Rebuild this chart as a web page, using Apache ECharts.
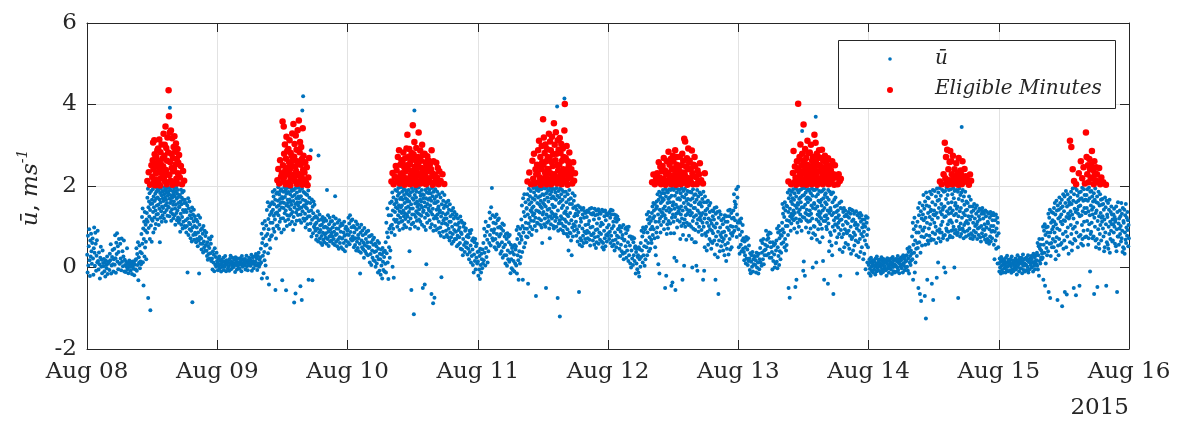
<!DOCTYPE html>
<html>
<head>
<meta charset="utf-8">
<script src="https://cdn.jsdelivr.net/npm/echarts@6/dist/echarts.min.js"></script>
<style>
html,body{margin:0;padding:0;background:#fff}
#chart{width:1180px;height:425px}
</style>
</head>
<body>
<div id="chart"></div>
<script>
// Day tick labels along the time axis (Aug 08 .. Aug 16, 2015)
const dayLabels = ['Aug 08', 'Aug 09', 'Aug 10', 'Aug 11', 'Aug 12', 'Aug 13', 'Aug 14', 'Aug 15', 'Aug 16'];
const yearLabel = '2015';
const yTickValues = [-2, 0, 2, 4, 6];

// Mean wind speed ū (m/s): for each day, one list of samples per hour (hours 0..23)
const blue08 = [
  [.31,-.12,.78,.05,.52,.94,.18,-.21,.66,.27,.83,.4,.09,.6],
  [.71,.22,-.18,.47,.98,.36,.04,.85,.58,-.08,.29,.67,.13,.9],
  [.16,-.05,.37,.08,-.27,.24,.51,.02,.19,-.14,.42,.11],
  [.03,.21,-.09,.12,-.22,.17,.06,-.02,.27,-.16,.09,.14],
  [.12,-.06,.34,.18,.57,-.15,.05,.26,.43,.08,-.1,.2],
  [.46,.07,.79,.23,-.13,.61,.33,.84,.15,.52,-.04,.38,.7,.1],
  [.09,.58,.22,-.07,.71,.14,.4,.03,.27,.66,-.1,.19],
  [.06,-.11,.14,.02,.47,-.04,.1,-.14,.08,.17,.01,.12],
  [-.08,.1,.02,-.16,.15,.05,-.03,.12,-.19,.07,.18,-.05],
  [.2,.47,-.08,.33,.06,.62,-.31,.25,.12,.54,-.02,.38,.15,.08],
  [.82,.35,1.24,.58,1.45,.13,.96,-.44,.7,1.12,.27,1.36,.49,.91,1.05,.63,.2,1.18],
  [1.34,.86,1.71,1.12,1.93,-.75,1.48,.97,1.62,1.25,1.82,.7,1.41,-1.05,1.56,1.03,1.88,1.19,.63,1.66],
  [1.57,1.15,1.92,1.36,.86,1.74,1.48,1.98,1.23,1.63,.95,1.81,1.4,1.07,1.69,1.86,1.3,1.52,1.94,1.18],
  [1.72,1.31,1.89,1.54,1.04,1.96,1.44,1.67,.62,1.83,1.22,1.6,1.93,1.38,1.77,1.12,1.5,1.86,1.28,1.7],
  [1.46,1.88,1.63,1.2,1.79,1.97,1.35,1.71,1.53,1.91,1.13,1.66,1.84,1.41,1.58,1.95,1.27,1.76,1.5,1.86],
  [1.82,1.47,1.95,1.26,1.69,3.92,1.58,1.9,1.36,1.77,1.15,1.63,1.98,1.43,1.72,1.31,1.87,1.54,1.21,1.8],
  [1.62,1.93,1.28,1.75,1.45,1.05,1.86,1.54,1.97,1.34,1.69,1.16,1.81,1.4,1.9,1.23,1.58,1.73,1.1,1.48],
  [1.49,1.17,1.78,.88,1.62,1.32,1.91,1.05,1.55,1.71,1.24,1.84,.96,1.41,1.66,1.12,1.88,1.36,1.58,1.02],
  [1.66,.98,1.41,1.16,1.58,.86,1.36,1.02,1.52,-.12,1.2,1.7,.8,1.45,1.1,1.62,.94,1.28],
  [1.06,.72,1.38,.9,1.21,.64,1.47,-.85,.98,1.3,.8,1.13,1.42,.68,1.02,1.26,.85,1.17],
  [.81,.62,1.17,.98,.7,1.12,.52,.86,1.28,.66,-.15,1.05,.75,1.22,.58,.92],
  [.71,.44,.96,.58,.83,.37,1.02,.64,.5,.9,.41,.77,.55,.86],
  [.41,.28,.62,.19,.53,.33,.72,.48,.22,.69,.35,.58,.16,.76],
  [.22,-.05,.4,.12,.31,-.09,.47,.07,.26,.02,.36,.16]
];
const blue09 = [
  [.11,-.07,.22,.04,.27,-.02,.16,.08,-.1,.19,.01,.13],
  [.05,.24,-.06,.15,.02,.28,.09,-.09,.18,.07,.12,-.03],
  [.17,.03,-.08,.21,.1,.29,-.04,.14,.06,.24,0,.11],
  [.02,.19,.09,-.11,.25,.06,.14,-.05,.22,.04,.12,-.02],
  [.13,-.03,.23,.07,.17,-.09,.28,.1,.02,.2,.05,.15],
  [.08,.21,-.05,.15,.29,.03,.11,-.07,.18,.06,.24,.12],
  [.2,.04,.14,.31,-.08,.09,.25,.16,-.02,.12,.27,.06],
  [.14,.33,.05,.22,-.06,.28,.1,.36,.02,.19,.08,.25],
  [.46,.12,.83,-.27,.6,1.08,.29,.71,-.14,.95,.38,.18,1.14,.54,.05,.77],
  [1.03,.56,1.41,-.26,.82,1.6,.35,1.19,.94,-.42,1.5,.68,1.29,.47,1.1,1.55,.76,1.34],
  [1.37,.79,1.6,1.1,1.86,1.42,.95,1.74,1.27,1.55,.88,1.9,1.18,1.66,-.55,1.33,.71,1.81,1.02,1.49],
  [1.35,1.84,1.03,1.64,1.97,1.28,1.52,.95,1.79,1.41,1.12,1.68,1.88,1.58,1.2,1.92,.86,1.47,1.73,-.31],
  [1.6,1.7,1.21,1.86,1.46,.93,1.58,1.97,1.33,1.73,1.14,1.89,1.4,-.56,1.81,1.52,1.02,1.95,1.28,1.66],
  [1.58,1.18,1.85,1.49,1.97,1.27,1.67,1.06,1.8,1.43,1.62,1.95,1.31,1.54,1.88,1.12,1.74,1.36,1.92,.92],
  [1.63,1.24,1.9,-.86,1.47,1.78,1.06,1.56,-.64,1.95,1.35,1.7,1.15,1.84,1.42,1.6,1.97,1.29,1.52,1.74],
  [1.96,1.7,1.44,1.16,1.88,1.6,-.46,1.3,1.75,1.1,1.47,-.8,1.93,3.85,1.38,1.66,4.2,1.2,1.85,1.52],
  [1.52,1.15,1.83,1.32,1.64,.98,1.48,1.8,1.2,1.57,1.45,1.78,1.06,1.6,1.25,1.89,-.3,1.38,.92,1.71],
  [1.26,.92,1.58,1.08,2.88,1.4,.76,1.67,1.17,-.31,1.49,.84,1.33,1.62,1.0,1.22,1.54,.97],
  [1.06,.9,1.26,.68,1.1,.78,1.22,.95,1.38,.64,2.75,1.16,.86,1.3,.71,1.03],
  [.92,.6,1.18,.77,1.05,.55,1.24,.85,.68,1.12,.98,.62,1.2,.81,1.0,.73],
  [.84,1.15,.58,1.9,.97,.7,1.28,.88,.53,1.06,.76,1.22,.64,.94,1.12,.8],
  [.66,.85,1.14,.76,.99,.59,1.25,.7,.88,1.06,.55,1.75,.8,1.2,.63,.96],
  [.82,.52,1.1,.68,.95,.46,1.16,.74,.6,1.02,.88,.5,1.08,.71],
  [.72,1.04,.45,.86,.6,1.12,.78,.4,.95,.66,1.0,.53,.81,.9]
];
const blue10 = [
  [.94,.62,1.22,.8,1.08,.57,1.28,.87,.7,1.15,.99,.66,1.18,.76],
  [.68,1.02,.5,.86,.98,.55,.72,1.13,.42,.93,.63,1.06,.48,.8],
  [.72,.4,.98,.58,-.15,.85,.36,1.05,.66,.5,.91,.79,.45,.61],
  [.24,.97,.55,.4,.83,.7,.34,.88,.52,.62,.3,.9,.48,.76],
  [.5,.12,.77,.33,.62,.06,.8,.42,.24,.68,.56,.18,.73,.38],
  [.16,.58,.02,.4,.52,.1,.27,.65,-.12,.46,.2,.6,-.08,.34],
  [.2,-.18,.44,.05,.32,-.27,.48,.14,-.06,.38,.26,-.1,.41,.09],
  [.62,-.12,1.1,.35,.86,1.45,.12,.74,-.28,1.28,.5,.95,.24,1.58,.42,1.02],
  [1.28,.86,1.62,1.05,1.84,.02,1.4,.95,1.72,-.25,1.18,1.55,.8,1.36,1.9,1.12,1.48,1.66],
  [1.6,1.17,1.88,1.0,1.45,1.76,1.28,1.95,1.09,1.53,1.82,.92,1.38,1.68,1.22,1.97,1.48,1.12,1.72,1.34],
  [1.52,1.86,1.14,1.67,.96,1.4,1.93,1.26,1.78,1.04,1.58,1.33,1.9,1.19,1.7,1.46,.99,1.84,1.3,1.62],
  [1.66,1.25,1.8,1.5,1.12,1.9,1.36,1.62,.4,1.76,.95,1.44,1.2,1.84,1.55,-.55,1.06,1.95,1.3,1.7],
  [1.45,1.88,1.1,1.66,-1.15,1.3,3.85,1.78,1.0,1.57,1.94,1.24,1.72,1.38,1.86,1.15,1.62,1.49,1.96,1.33],
  [.96,1.55,1.97,1.18,1.43,1.84,1.3,1.66,1.12,1.76,1.52,1.62,1.27,1.9,1.05,1.48,1.8,-.5,1.36,1.7],
  [1.4,1.78,1.0,1.6,-.42,1.22,1.9,1.5,.92,1.7,.08,1.32,1.84,1.1,1.56,1.95,1.28,1.66,1.45,1.82],
  [1.4,1.9,1.16,1.7,1.52,.98,1.82,1.36,1.64,-.65,1.06,1.95,1.3,1.75,1.44,-.88,.9,1.86,1.2,1.58],
  [-.74,1.68,1.02,1.92,1.26,1.58,.92,1.75,1.42,1.2,1.86,1.3,1.62,.96,1.46,1.5,1.12,1.8,.85,1.35],
  [1.4,.98,1.72,.78,1.25,-.24,1.55,1.08,1.84,1.34,.88,1.64,1.16,1.46,.74,1.78,1.2,1.52],
  [1.08,1.3,.9,1.6,1.2,.8,1.5,1.04,1.34,.74,1.64,.95,1.42,1.12,.66,1.55,.86,1.26],
  [1.12,.74,1.4,.58,1.0,1.3,.82,1.46,.64,1.2,.92,1.36,.7,1.06,1.25,.88],
  [.7,1.3,.52,1.05,.78,1.2,.56,.92,1.1,.74,.98,.6,1.25,.46,.86,1.15],
  [.82,.44,1.1,.3,.7,1.0,.55,1.08,.38,.9,.62,.96,.5,.76],
  [.6,.32,.8,.46,.74,.2,.9,.38,.84,.54,.12,.92,.28,.66],
  [.44,.06,.72,-.12,.32,.62,.16,.7,-.05,.52,.24,.58,.1,.38]
];
const blue11 = [
  [.15,-.2,.4,-.05,.28,-.28,.46,.06,-.12,.34,.2,-.02,.44,.1],
  [.6,.18,.95,.36,.78,.05,1.12,.48,.26,.88,.68,.12,1.02,.4],
  [1.02,.6,1.35,.8,1.2,.54,1.48,.92,1.95,.72,1.28,.66,1.1,.86],
  [.94,.5,1.24,.7,1.08,.44,1.3,.82,.6,1.16,.98,.52,1.2,.76],
  [.56,1.0,.34,.82,.96,.4,.62,1.08,.24,.9,.5,1.04,.3,.76],
  [.56,.1,.82,.3,.7,.04,.84,.42,.2,.76,.62,.14,.8,.36],
  [-.14,.56,.2,-.02,.48,.38,-.06,.52,.16,.32,-.1,.55,.1,.44],
  [.52,.05,.92,-.15,.7,.3,1.0,.18,-.3,.82,.4,.6,.1,.95,.26,.76],
  [1.18,.68,1.52,.38,1.02,-.3,1.7,.86,1.36,.5,1.8,.96,1.26,.6,1.6,1.1,.76,1.44],
  [1.46,.95,1.8,.74,1.3,-.4,1.66,1.08,1.93,.86,1.55,1.22,1.75,1.0,1.4,1.88,1.15,1.6,.8,1.36],
  [1.46,.94,1.7,1.28,1.95,1.5,1.14,1.84,1.32,1.66,1.02,1.96,1.22,1.76,-.7,1.4,.9,1.9,1.1,1.58],
  [1.97,1.08,1.72,1.38,1.88,1.2,1.55,1.94,1.35,1.75,1.04,1.5,1.64,1.16,1.92,.98,1.46,.6,1.8,1.3],
  [1.58,1.95,1.36,1.78,1.06,1.54,1.66,1.2,1.94,1.0,1.5,-.5,1.82,1.3,1.97,1.1,1.72,1.42,1.88,1.24],
  [1.62,1.14,1.9,.96,1.44,.72,1.8,1.26,1.96,1.06,1.7,1.36,1.86,1.2,1.54,1.93,1.32,1.74,1.02,1.48],
  [.96,1.7,1.26,1.92,1.5,1.14,1.84,1.3,1.66,1.0,1.95,1.22,3.95,1.76,-.75,1.4,.9,1.88,1.08,1.58],
  [1.72,1.16,-1.2,1.94,.94,1.62,1.26,1.8,1.08,1.46,1.9,1.2,1.66,.9,1.52,1.02,1.86,.84,1.34,4.15],
  [1.18,1.74,1.0,1.38,1.86,1.12,1.6,.82,1.3,1.46,.94,1.8,.76,1.26,.42,1.66,1.08,1.9,.86,1.56],
  [1.34,.84,1.7,.66,1.16,.3,1.56,.98,1.82,.76,1.46,1.06,1.64,.9,1.26,1.76,1.02,1.5],
  [1.32,1.12,.78,1.42,.94,1.28,.64,1.52,.86,1.36,-.6,1.02,.56,1.48,.72,1.2],
  [1.12,.66,1.42,.52,.96,1.3,.78,1.46,.6,1.22,.88,1.38,.7,1.04,1.34,.84],
  [.62,1.24,.9,1.4,.72,1.06,1.36,.86,1.14,.68,1.44,.54,.98,1.32,.8,1.46],
  [.8,1.3,1.0,.66,1.34,.84,1.18,.56,1.44,.74,1.28,.92,.48,1.4,.62,1.08],
  [.94,1.3,.76,1.43,.58,1.2,.86,1.36,.68,1.02,1.32,.82,1.1,.64,1.42,.5],
  [1.06,.6,1.38,.44,.9,1.26,.72,1.4,.52,1.16,.8,1.33,.64,.98,1.28,.78]
];
const blue12 = [
  [.84,1.32,1.04,.7,1.36,.88,1.22,.6,1.42,.78,1.3,.96,.52,1.4,.66,1.12],
  [1.02,.56,1.3,.42,.86,1.2,.68,1.28,.5,1.12,.78,1.25,.6,.94,1.18,.74],
  [.96,.46,1.02,.28,.88,.56,.98,.4,.72,.8,.34,1.04,.2,.66],
  [.68,.36,.95,.52,.84,.24,.99,.42,.92,.62,.16,1.0,.3,.76],
  [.54,.1,.76,0,.42,.7,.22,.74,.06,.62,.3,.72,.16,.48],
  [.52,-.15,.38,.1,.46,-.04,.26,.3,-.12,.5,-.22,.2,.44,.02],
  [.6,.26,.9,.42,.76,.12,.98,.3,.86,.52,.04,.94,.2,.66],
  [1.0,.5,1.3,.3,.86,1.18,.6,1.36,.4,1.08,.74,1.24,.46,.94,1.14,.68],
  [.6,1.34,1.0,1.5,.8,1.2,1.58,.94,1.4,1.26,.72,1.56,.5,1.12,.3,1.44,.86,1.62],
  [1.5,.98,1.8,.74,1.3,.08,1.66,1.12,1.86,-.15,1.42,1.2,1.74,.86,1.58,1.04,1.36,1.82,1.26,1.62],
  [1.7,1.34,1.9,1.44,1.12,1.66,.94,1.82,1.28,1.5,-.5,1.93,1.2,1.74,-.2,1.4,.82,1.88,1.06,1.58],
  [1.84,.96,1.68,1.14,1.46,1.92,1.36,1.72,1.6,1.08,1.9,.84,1.42,-.45,1.76,1.22,1.95,-.37,1.52,1.3],
  [1.6,1.12,1.9,.84,.24,1.44,1.76,1.24,-.55,1.95,1.54,1.32,.16,1.84,.98,1.68,1.16,1.48,1.92,1.38],
  [1.7,1.34,1.9,1.44,1.12,1.66,.7,1.82,1.3,1.5,1.02,1.94,1.2,1.74,-.3,1.4,.8,1.88,1.08,1.58],
  [.04,1.72,1.18,1.93,1.0,1.48,1.28,1.8,.68,1.64,1.1,1.42,1.88,1.32,1.68,1.56,1.04,1.86,.78,1.38],
  [1.06,1.4,1.86,1.28,1.66,1.52,1.0,1.84,.7,1.34,0,1.7,1.14,1.92,.95,1.46,1.24,1.78,.62,1.6],
  [1.46,.92,1.8,.62,1.28,.04,1.66,1.08,1.9,-.08,1.4,1.18,1.74,.88,1.56,1.0,1.34,1.84,1.22,1.6],
  [1.55,1.16,1.8,1.28,.92,1.5,.8,1.68,1.1,1.34,-.3,1.86,1.0,1.6,-.08,1.2,.5,1.74,.84,1.4],
  [1.3,.78,1.6,.42,1.1,1.44,.88,1.64,.56,1.2,1.02,1.52,.7,1.36,.94,1.58,1.16,.64],
  [.46,1.08,.9,1.4,.6,1.26,.84,1.38,1.02,1.18,.66,1.46,.32,.98,-.3,1.32,.76,1.48],
  [1.08,.56,1.36,.25,.88,-.65,1.22,.66,1.38,.4,.98,.8,1.3,.52,1.16,.74],
  [.86,.64,1.06,.42,1.2,.7,.88,.3,1.28,.56,1.12,.78,.16,1.26,.46,.98],
  [1.12,.6,1.4,.32,.92,1.26,.7,1.42,.44,1.02,.84,1.34,.5,1.2,.78,1.0],
  [.85,1.4,1.22,1.8,.9,1.62,1.16,1.48,1.55,1.0,1.92,.75,1.3,1.72,1.1,1.98]
];
const blue13 = [
  [.94,.5,1.16,.34,.8,1.1,.56,1.2,.4,.88,.66,1.04,.46,.72],
  [.38,.18,.64,.3,.5,.1,.75,.22,.68,.44,.06,.72,.16,.54],
  [.22,-.06,.35,-.14,.14,.3,.02,.38,-.1,.2,.08,.28],
  [.26,.06,.18,-.12,.36,0,.28,.12,-.15,.34,-.04,.2],
  [.48,.12,.66,.04,.36,.6,.2,.7,.08,.42,.3,.56],
  [.44,.9,.3,.68,.52,.8,.72,.34,.86,.24,.62,.84],
  [.5,.24,.38,-.05,.62,.16,.54,.32,0,.58,.1,.42],
  [.66,.14,.96,-.02,.5,.86,.28,1.02,.06,.72,.4,.9,.2,.8,.36,.58],
  [.78,1.1,1.56,.94,1.32,.62,1.46,.86,1.24,.5,1.6,.7,1.4,1.02,.42,1.52,.55,1.16],
  [1.5,1.02,1.84,.8,1.36,-.5,1.7,1.14,1.9,-.74,1.44,1.26,1.78,.9,1.62,1.08,1.32,1.86,1.2,1.56],
  [1.7,1.28,1.92,1.4,1.16,1.66,.96,1.82,1.34,1.52,-.48,1.95,1.2,1.74,-.3,1.46,.86,1.9,1.1,1.58],
  [1.54,1.36,1.84,1.0,1.68,1.18,1.42,1.9,1.3,1.72,1.6,1.14,1.92,.9,1.48,3.35,1.76,1.24,1.95,-.08],
  [1.48,.15,1.78,1.22,1.95,-.2,1.54,1.34,1.84,.98,1.68,1.16,1.42,1.9,1.3,1.72,1.6,1.12,1.92,.86],
  [1.7,1.28,1.88,1.4,1.14,1.66,.96,1.82,1.32,1.52,.72,1.94,1.2,1.76,0,1.46,.84,1.9,1.02,1.58],
  [1.56,1.0,1.9,.8,1.44,3.7,1.74,.12,1.18,1.93,.68,1.5,1.3,1.8,.94,1.64,1.12,1.38,1.88,1.26],
  [.62,1.6,1.06,1.34,1.86,1.2,1.66,1.52,.95,1.88,.74,1.4,.16,1.7,1.14,1.92,-.3,1.46,1.26,1.78],
  [1.6,1.14,1.82,1.28,1.0,1.55,.94,1.72,1.2,1.4,-.4,1.9,1.08,1.66,.4,1.34,.64,1.86,.86,1.46],
  [1.4,.8,1.8,.54,1.28,.3,1.6,1.0,1.84,-.65,1.34,1.16,1.66,.9,1.5,1.06,1.72,1.22],
  [.6,1.36,1.04,1.52,.74,1.22,1.4,.98,1.1,1.28,.82,1.58,.44,1.16,-.2,1.46,.92,1.62],
  [1.18,.74,1.44,.38,1.04,1.36,.82,1.46,.5,1.26,.94,1.4,.6,1.12,1.3,.88],
  [.84,1.26,1.08,.56,1.36,.9,1.22,.46,1.44,.78,1.32,1.0,.34,1.42,.7,1.14],
  [.74,1.4,.42,1.18,.86,1.32,.54,1.04,.8,1.1,.66,1.38,.3,.96,-.15,1.28],
  [1.04,.62,1.32,.26,.9,1.22,.7,1.34,.38,1.12,.82,1.28,.5,.98,1.18,.76],
  [.2,1.06,.88,.34,1.18,.66,1.0,-.04,1.26,.56,1.1,.8,.12,1.22,.5,.94]
];
const blue14 = [
  [.06,-.14,.2,-.03,.12,-.2,.24,.02,-.08,.16,.09,-.12,.18,.04],
  [-.05,.14,.03,-.17,.22,.08,-.1,.27,0,.11,-.06,.19,.05,.13],
  [.1,-.09,.19,.01,-.15,.25,.07,-.04,.15,-.11,.21,.04,.12,-.02],
  [.02,.18,-.07,.13,-.2,.09,.23,-.03,.16,.05,-.13,.2,.07,-.01],
  [.14,-.04,.22,.06,-.16,.11,.26,.01,-.09,.18,.08,-.12,.2,.03],
  [.05,.21,-.1,.15,0,.28,-.06,.12,.2,-.14,.09,.17,.03,.24],
  [.18,-.02,.26,.08,-.12,.3,.1,.04,.22,-.07,.14,.28,0,.16],
  [.3,.02,.46,-.08,.22,.38,-.15,.5,.12,.28,.06,.42,.18,.34],
  [.76,.2,1.1,-.3,.56,.94,.36,1.22,-.12,.66,.12,1.02,.46,.86,.28,.6],
  [1.12,.48,1.46,-.5,.86,1.28,.62,1.58,-.65,1.0,.36,1.38,-.82,.76,1.2,.54,.92,1.52],
  [1.3,.9,1.78,1.16,.74,1.44,.98,-.7,1.62,.56,1.22,-1.25,1.84,.8,1.52,1.1,-.3,1.72,.66,1.34],
  [.58,1.7,.96,1.5,.78,1.24,1.86,1.06,1.38,.66,1.42,.7,1.8,-.4,1.18,1.6,.86,1.9,-.8,1.3],
  [.68,1.4,1.1,1.88,1.28,.82,1.54,1.0,1.74,.6,1.34,-.25,1.94,.9,1.64,1.22,.12,1.84,.72,1.46],
  [1.66,.94,1.95,.86,1.36,.64,1.76,1.04,1.56,.86,1.3,1.9,1.12,1.42,.72,1.48,.78,1.86,0,1.24],
  [1.5,.8,1.88,-.12,1.26,1.68,.96,1.96,.9,1.38,.68,1.78,1.06,1.58,.88,1.32,1.9,1.14,1.44,.74],
  [.78,1.46,1.16,1.92,1.34,.9,1.6,1.1,1.8,.74,1.4,.92,1.95,1.0,1.7,1.28,0,1.88,.84,1.52],
  [1.58,.92,1.32,1.9,1.14,1.44,.8,1.5,.86,1.86,-.75,1.26,1.68,1.0,1.94,.94,1.38,.76,1.78,1.08],
  [1.46,.82,1.84,3.45,1.22,1.64,.96,1.9,.9,1.34,.72,1.74,1.04,1.54,.88,1.28,1.86,1.1,1.4,.76],
  [1.62,1.14,1.42,.9,1.58,1.08,1.26,.8,1.74,.96,1.5,1.18,.72,1.66,.84,1.36],
  [1.26,.8,1.5,.7,1.1,1.4,.9,1.56,.76,1.2,1.02,1.46,.86,1.32,1.06,1.52],
  [.7,1.12,.96,1.38,.8,1.26,.98,1.44,1.18,.74,1.42,.64,1.02,1.32,.84,1.46],
  [1.38,.94,1.2,.76,1.32,.92,1.06,.68,1.4,.8,1.26,.98,.62,1.36,.7,1.12],
  [1.08,.66,1.32,.58,.94,1.22,.76,1.36,.64,1.02,.88,1.28,.72,1.16,.9,1.34],
  [1.02,.56,1.28,.2,.88,1.16,.66,1.3,.46,.96,.78,1.22,.1,1.1,.5,.84]
];
const blue15 = [
  [.1,-.1,.22,0,.14,-.15,.26,.04,-.06,.18,.07,-.12,.2,.12],
  [-.02,.16,.05,-.12,.24,.11,-.06,.29,.02,.13,-.09,.19,.08,.15],
  [.11,-.07,.21,.03,-.13,.27,.09,-.04,.17,-.09,.15,.06,.13,0],
  [.05,.22,-.05,.15,-.17,.1,.3,.01,.18,.08,-.1,.24,.12,-.03],
  [.18,-.02,.24,.09,-.14,.14,.32,.04,-.06,.2,.1,-.1,.22,.06],
  [.07,.24,-.06,.17,.02,.3,-.12,.14,.2,-.04,.12,.22,.06,.28],
  [.2,0,.28,.12,-.1,.34,.13,.05,.25,-.04,.16,.3,.09,.18],
  [.36,.04,.6,-.05,.3,.52,-.2,.7,.16,.46,.1,.56,.24,.42,.2,.34],
  [.7,.24,1.0,-.3,.56,.9,.36,1.06,-.45,.8,.1,.98,.48,.62,.3,.86],
  [1.0,.4,1.32,-.6,.76,1.22,.58,1.42,-.75,.86,.28,1.1,.6,1.36,.5,.94,1.16,.7],
  [1.34,1.0,.5,1.46,1.12,.86,1.58,.64,1.3,.2,1.06,.4,1.64,.74,1.4,.96,-.8,1.52,.54,1.2],
  [.3,1.42,.7,1.72,.92,1.24,1.58,.56,1.12,1.46,1.3,.6,1.66,-.95,1.06,1.5,.82,1.8,.46,1.16],
  [1.38,.66,1.74,-.6,1.14,1.58,.88,1.88,.5,1.24,-.66,1.5,.76,1.8,.98,1.32,1.66,.34,1.2,1.54],
  [1.6,1.26,.62,1.72,1.38,1.04,1.86,.82,1.56,.42,1.3,.58,1.94,.95,1.64,1.2,-.5,1.8,.7,1.44],
  [1.0,1.96,.66,1.36,-.68,1.6,.86,1.9,1.1,1.42,1.76,.5,1.32,1.64,1.5,.76,1.84,-.45,1.26,1.68],
  [1.52,.8,1.86,.58,1.28,1.7,1.04,1.96,.7,1.38,.54,1.64,.9,1.92,1.12,1.46,1.78,.74,1.34,1.66],
  [1.66,1.34,.76,1.78,1.46,1.14,1.92,.92,1.64,.56,1.38,.72,1.96,1.06,1.7,1.28,-.1,1.86,.82,1.52],
  [.88,1.88,1.1,1.42,1.74,.72,1.3,1.62,1.48,.76,1.82,-.65,1.22,1.66,1.0,1.94,.66,1.34,.5,1.6],
  [1.4,.7,1.74,-.48,1.14,1.58,.94,1.86,.58,1.26,.46,1.52,.82,1.8,1.04,1.34,1.66,.66,1.22,1.54],
  [1.12,1.68,1.26,.96,1.56,.76,1.42,.4,1.18,.5,1.72,.86,1.48,1.06,-.45,1.64,.62,1.3],
  [1.24,.56,1.58,.46,1.0,1.42,.82,1.66,.36,1.12,.7,1.36,.9,1.5,1.06,1.3,.64,1.18],
  [.66,1.06,1.3,.86,1.44,1.0,1.24,.58,1.12,1.18,.52,1.5,.4,.94,-.6,1.36,.76,1.6],
  [.76,1.08,.56,1.2,.96,1.4,.82,1.26,1.02,.64,1.58,.72,1.32,.9,.38,1.46,.5,1.14],
  [1.1,.46,1.42,.34,.86,1.28,.68,1.56,.6,.98,1.22,.78,1.36,.92,1.16,.52,1.04,.72]
];

// Eligible minutes (ū >= 2 m/s): first hour of each day's window, then samples per hour from it
const redStart = [11, 11, 8, 9, 8, 9, 13, 13];
const red08 = [
  [2.12,2.34,2.03,2.51],
  [2.22,2.63,3.07,2.41,2.09,3.12,2.78,2.02,2.47,2.31,2.71,2.16,2.56,2.88],
  [2.33,2.92,2.08,2.61,3.14,2.43,2.01,2.83,2.19,2.52,3.02,2.37,2.67,2.26],
  [2.48,3.28,2.21,2.74,3.01,2.11,3.46,2.39,2.93,2.04,2.62,3.19,2.29,2.82],
  [4.35,3.71,2.27,3.31,2.58,2.13,3.36,2.79,2.44,3.17,2.03,2.69,2.36,2.96],
  [2.42,3.22,2.09,2.84,2.53,3.04,2.18,2.66,2.06,2.91,2.31,2.57,2.24,2.76],
  [2.21,2.49,2.04,2.37,2.13]
];
const red09 = [
  [2.14,2.42,2.06,2.63,2.23,2.31],
  [3.58,2.51,2.11,3.46,2.79,2.22,3.02,2.38,2.04,2.67,3.21,2.29,2.86,2.45],
  [2.32,2.91,2.09,2.58,3.12,2.41,2.02,2.81,2.19,2.49,2.73,3.29,2.27,2.62],
  [3.52,2.18,2.72,3.03,2.12,2.47,3.24,2.36,2.89,2.05,2.61,3.37,2.26,2.55],
  [3.61,2.29,2.83,3.08,2.13,2.52,2.96,2.21,2.66,2.03,3.42,2.39,2.74,2.16],
  [2.33,2.58,2.08,2.46,2.02,2.21,2.69]
];
const red10 = [
  [2.11,2.32,2.04,2.23,2.49],
  [2.38,2.12,2.71,2.21,2.88,2.06,2.52,2.29,2.63],
  [2.31,2.59,2.13,2.82,2.22,2.46,2.03,2.68,2.36,2.17,2.92,2.51],
  [3.26,2.42,2.09,2.72,2.19,2.91,2.53,2.04,2.61,2.28,2.14,2.81,2.37,2.66],
  [3.49,2.33,2.78,2.12,3.08,2.47,2.21,2.64,2.03,2.93,2.39,2.58,2.26,2.71],
  [2.52,3.31,2.11,2.69,2.29,2.87,2.06,2.62,2.18,2.44,3.01,2.34,2.76,2.24],
  [2.41,2.08,2.79,2.27,2.58,2.04,2.49,2.18,2.73,2.36,2.63,2.13],
  [2.19,2.52,2.09,2.41,2.88,2.31,2.03,2.61,2.24],
  [2.28,2.11,2.57,2.21,2.44,2.04,2.36],
  [2.12,2.29,2.05]
];
const red11 = [
  [2.11,2.33,2.04],
  [2.62,2.18,2.79,2.06,2.41,2.29,2.52],
  [2.31,2.88,2.09,3.11,2.49,2.21,2.71,2.03,2.42,2.98,2.58,2.16],
  [3.64,2.52,3.19,2.12,2.81,2.33,3.02,2.23,2.61,2.04,2.91,2.42,2.71,2.17],
  [2.41,3.28,2.09,2.69,3.09,2.31,2.88,2.04,2.59,3.21,2.19,2.49,2.78,2.26],
  [3.54,2.29,3.01,2.11,2.63,3.32,2.18,2.79,2.06,2.51,3.12,2.38,2.89,2.22],
  [2.52,3.18,2.08,2.81,2.32,3.03,2.04,2.62,2.21,2.92,2.41,2.71,2.14,3.36],
  [4.01,2.28,2.69,2.12,2.98,2.41,2.03,2.61,2.19,2.51,2.82,2.34],
  [2.22,2.41,2.06,2.58,2.13,2.31]
];
const red12 = [
  [2.09,2.28,2.04,2.19],
  [2.31,2.12,2.58,2.21,2.47,2.04,2.36],
  [2.49,2.18,2.69,2.09,2.38,2.03,2.29,2.61,2.14],
  [2.32,2.84,2.11,2.52,2.19,2.66,2.04,2.41,2.26,2.74],
  [2.61,2.21,2.43,2.09,2.88,2.32,2.03,2.52,2.71,2.14,2.37,2.24],
  [2.39,2.12,2.72,2.28,2.04,2.51,2.18,2.79,2.33,2.62,2.08],
  [3.16,2.29,3.09,2.11,2.48,2.21,2.68,2.03,2.41,2.92,2.16,2.57],
  [2.62,2.19,2.42,2.08,2.87,2.31,2.04,2.52,2.24,2.71],
  [2.49,2.22,2.04,2.38,2.11,2.29,2.56],
  [2.14,2.06,2.31]
];
const red13 = [
  [2.11,2.04],
  [2.32,2.86,2.09,2.48,2.21,2.03,2.61,2.38],
  [4.02,2.41,2.12,2.71,2.29,3.02,2.19,2.51,2.04,2.79,2.36,2.62],
  [3.51,2.31,2.59,2.08,2.91,2.42,2.19,2.69,2.03,2.52,3.11,2.36,2.81,2.24],
  [2.49,2.18,2.82,2.11,2.39,3.01,2.28,2.04,2.62,2.21,2.72,2.43,2.33,2.56],
  [3.26,2.41,2.09,3.06,2.61,2.29,2.79,2.03,2.52,2.18,2.71,2.36,2.88,2.14],
  [2.51,2.19,2.69,2.08,2.42,2.89,2.31,2.04,2.62,2.23,2.46,2.13,2.74],
  [2.31,2.59,2.11,2.42,2.21,2.68,2.04,2.49,2.28,2.16],
  [2.39,2.11,2.61,2.19,2.29,2.03,2.51,2.22],
  [2.21,2.04,2.29,2.12,2.18]
];
const red14 = [
  [2.11,2.04,2.29],
  [3.06,2.19,2.71,2.09,2.89,2.03,2.41,2.14,2.59],
  [2.86,2.12,2.61,2.29,2.04,2.74,2.21,2.16,2.41,2.08],
  [2.21,2.56,2.09,2.31,2.03,2.69,2.18,2.13,2.38],
  [2.29,2.04,2.61,2.19,2.11,2.42,2.14,2.24],
  [2.19,2.09,2.03,2.28,2.13]
];
const red15 = [
  [3.11,2.96,2.41,2.12],
  [2.04,2.31],
  [2.61,2.19,2.46,2.06],
  [3.31,2.71,2.29,2.51,2.09,2.66,2.41,2.21],
  [2.52,2.86,2.19,2.39,2.04,2.61,2.31,2.14,2.46],
  [2.29,2.11,2.44,2.04,2.21],
  [2.09,2.03]
];

const blueDays = [blue08, blue09, blue10, blue11, blue12, blue13, blue14, blue15];
const redDays = [red08, red09, red10, red11, red12, red13, red14, red15];

// Hourly sample lists -> [days since Aug 08, value]; samples sit evenly through their hour
function hourlyToPoints(hours, day, firstHour) {
  const pts = [];
  hours.forEach((vals, k) => {
    const h = firstHour + k;
    vals.forEach((v, j) => {
      pts.push([day + (h + (j + 0.5) / vals.length) / 24, v]);
    });
  });
  return pts;
}

const bluePoints = [];
blueDays.forEach((d, i) => bluePoints.push(...hourlyToPoints(d, i, 0)));
const redPoints = [];
redDays.forEach((d, i) => redPoints.push(...hourlyToPoints(d, i, redStart[i])));

const FONT = 'DejaVu Serif';
const INK = '#262626';
const BLUE = '#0072BD';
const RED = '#FF0000';

const chart = echarts.init(document.getElementById('chart'), null, { renderer: 'canvas' });

// top / right box edges: line and inward ticks only
const boxAxis = {
  axisLine: { show: true, onZero: false, lineStyle: { color: INK, width: 1 } },
  axisTick: { show: true, inside: true, length: 9, lineStyle: { color: INK } },
  splitLine: { show: false },
  axisLabel: { show: false }
};

chart.setOption({
  animation: false,
  backgroundColor: '#fff',
  grid: { left: 87, right: 51, top: 23, bottom: 76, containLabel: false },
  xAxis: [
    {
      type: 'value', min: 0, max: 8, interval: 1, position: 'bottom',
      axisLine: { show: true, onZero: false, lineStyle: { color: INK, width: 1 } },
      axisTick: { show: true, inside: true, length: 9, lineStyle: { color: INK } },
      splitLine: { show: true, lineStyle: { color: '#e2e2e2', width: 1 } },
      axisLabel: {
        margin: 12, color: INK, fontFamily: FONT, fontSize: 23,
        formatter: v => dayLabels[Math.round(v)]
      }
    },
    Object.assign({ type: 'value', min: 0, max: 8, interval: 1, position: 'top' }, boxAxis)
  ],
  yAxis: [
    {
      type: 'value', min: yTickValues[0], max: yTickValues[yTickValues.length - 1], interval: 2,
      position: 'left',
      axisLine: { show: true, onZero: false, lineStyle: { color: INK, width: 1 } },
      axisTick: { show: true, inside: true, length: 9, lineStyle: { color: INK } },
      splitLine: { show: true, lineStyle: { color: '#e2e2e2', width: 1 } },
      axisLabel: { margin: 10, color: INK, fontFamily: FONT, fontSize: 23 }
    },
    Object.assign({ type: 'value', min: -2, max: 6, interval: 2, position: 'right' }, boxAxis)
  ],
  series: [
    {
      name: 'ū', type: 'scatter', data: bluePoints,
      symbol: 'circle', symbolSize: 4,
      itemStyle: { color: BLUE, opacity: 1 },
      z: 2
    },
    {
      name: 'Eligible Minutes', type: 'scatter', data: redPoints,
      symbol: 'circle', symbolSize: 6.5,
      itemStyle: { color: RED, opacity: 1 },
      z: 3
    }
  ],
  graphic: [
    // y axis title: ū, ms^-1
    {
      type: 'text', x: 31, y: 188, rotation: Math.PI / 2, z: 10,
      style: {
        text: '{i|ū}{n|, }{i|ms}{s|-1}',
        align: 'center', verticalAlign: 'middle',
        fill: INK,
        rich: {
          i: { fontFamily: FONT, fontStyle: 'italic', fontSize: 23, fill: INK, lineHeight: 30 },
          n: { fontFamily: FONT, fontSize: 23, fill: INK, lineHeight: 30 },
          s: { fontFamily: FONT, fontStyle: 'italic', fontSize: 14, fill: INK, verticalAlign: 'top', lineHeight: 30 }
        }
      }
    },
    // year under the last day label
    {
      type: 'text', x: 1129, y: 408, z: 10,
      style: { text: yearLabel, align: 'right', verticalAlign: 'middle', fill: INK, fontFamily: FONT, fontSize: 23 }
    },
    // legend box
    {
      type: 'rect', z: 20,
      shape: { x: 838.5, y: 40.5, width: 277, height: 68 },
      style: { fill: '#fff', stroke: INK, lineWidth: 1 }
    },
    { type: 'circle', z: 21, shape: { cx: 890, cy: 59, r: 1.8 }, style: { fill: BLUE } },
    { type: 'circle', z: 21, shape: { cx: 890, cy: 90, r: 3 }, style: { fill: RED } },
    {
      type: 'text', x: 935, y: 59, z: 21,
      style: { text: 'ū', fontFamily: FONT, fontStyle: 'italic', fontSize: 20, fill: INK, verticalAlign: 'middle' }
    },
    {
      type: 'text', x: 935, y: 89, z: 21,
      style: { text: 'Eligible Minutes', fontFamily: FONT, fontStyle: 'italic', fontSize: 20, fill: INK, verticalAlign: 'middle' }
    }
  ]
});
</script>
</body>
</html>
